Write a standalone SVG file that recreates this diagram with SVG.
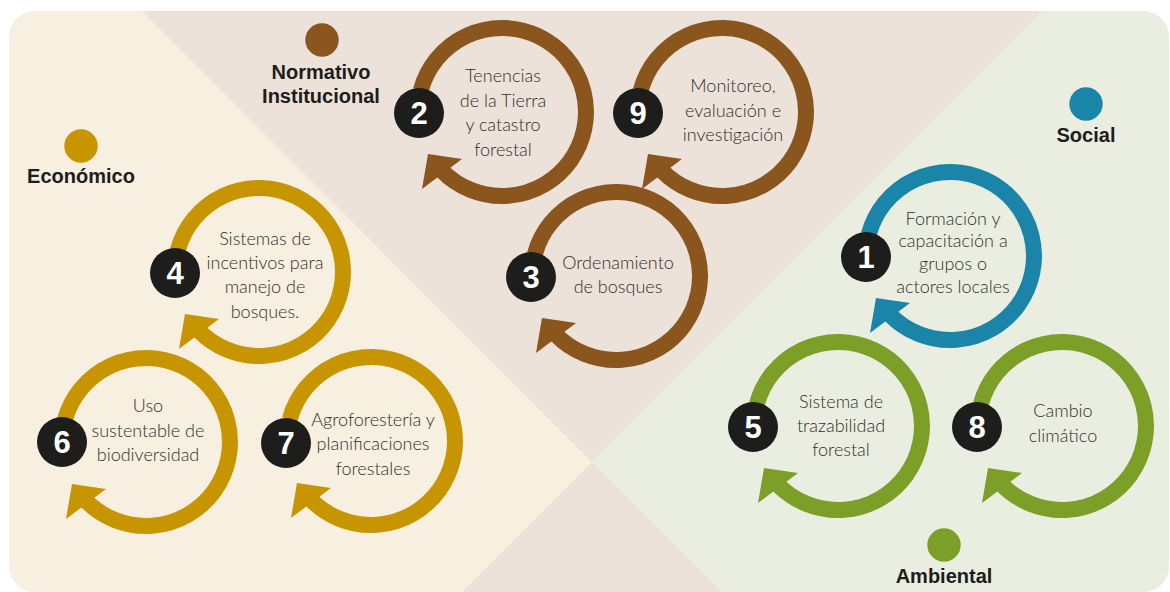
<svg xmlns="http://www.w3.org/2000/svg" xmlns:xlink="http://www.w3.org/1999/xlink" width="1170" height="592" viewBox="0 0 1170 592">
  <style>
    .ring { fill: none; stroke: currentColor; stroke-width: 16; }
    .head { fill: currentColor; }
    .brown { color: #8a561e; }
    .gold { color: #c79500; }
    .blue { color: #1a85a9; }
    .green { color: #7b9f27; }
    .badge { fill: #1d1d1b; }
    .num { font-family: "Liberation Sans", Arial, sans-serif; font-weight: bold; font-size: 31px; fill: #ffffff; text-anchor: middle; }
    .body { font-family: Lato, "Open Sans", sans-serif; font-weight: 300; font-size: 18px; fill: #2f2f2e; text-anchor: middle; }
    .title { font-family: "Liberation Sans", Arial, sans-serif; font-weight: bold; font-size: 20px; fill: #1d1d1b; text-anchor: middle; }
  </style>
  <defs>
    <clipPath id="bgclip">
      <rect x="9" y="11" width="1160" height="581" rx="26" ry="26"/>
    </clipPath>
    <g id="cycle">
      <path class="ring" d="M -81.14 -21.74 A 84 84 0 1 1 -60.42 58.35"/>
      <polygon class="head" points="-74,42 -40,47 -80,77"/>
    </g>
  </defs>

  <g id="background" clip-path="url(#bgclip)">
    <rect x="0" y="0" width="1170" height="592" fill="#f7efdf"/>
    <polygon points="142,11 1043,11 592,462" fill="#ece2d9"/>
    <polygon points="462,592 722,592 592,462" fill="#ece2d9"/>
    <polygon points="1043,11 1170,11 1170,592 722,592 592,462" fill="#eaeee0"/>
  </g>

  <g id="categories">
    <g id="cat-normativo">
      <circle cx="322" cy="40" r="16.7" fill="#8a561e"/>
      <text class="title" x="321" y="79">Normativo</text>
      <text class="title" x="321" y="103">Institucional</text>
    </g>
    <g id="cat-economico">
      <circle cx="81" cy="146" r="16.7" fill="#c79500"/>
      <text class="title" x="81" y="183">Económico</text>
    </g>
    <g id="cat-social">
      <circle cx="1086" cy="104" r="16.7" fill="#1a85a9"/>
      <text class="title" x="1086" y="142">Social</text>
    </g>
    <g id="cat-ambiental">
      <circle cx="944" cy="545" r="16.7" fill="#7b9f27"/>
      <text class="title" x="944" y="583">Ambiental</text>
    </g>
  </g>

  <g id="connectors">
    <use xlink:href="#cycle" href="#cycle" class="brown" transform="translate(502,112)"/>
    <use xlink:href="#cycle" href="#cycle" class="brown" transform="translate(722,112)"/>
    <use xlink:href="#cycle" href="#cycle" class="brown" transform="translate(616,276)"/>
    <use xlink:href="#cycle" href="#cycle" class="blue" transform="translate(950,256)"/>
    <use xlink:href="#cycle" href="#cycle" class="gold" transform="translate(259,272)"/>
    <use xlink:href="#cycle" href="#cycle" class="gold" transform="translate(146,442)"/>
    <use xlink:href="#cycle" href="#cycle" class="gold" transform="translate(371,441)"/>
    <use xlink:href="#cycle" href="#cycle" class="green" transform="translate(838,426)"/>
    <use xlink:href="#cycle" href="#cycle" class="green" transform="translate(1062,426)"/>
  </g>

  <g id="node-2">
    <circle class="badge" cx="419" cy="113" r="25"/>
    <text class="num" x="419" y="124">2</text>
    <text class="body" x="503" y="82">Tenencias</text>
    <text class="body" x="503" y="107">de la Tierra</text>
    <text class="body" x="503" y="131">y catastro</text>
    <text class="body" x="503" y="156">forestal</text>
  </g>
  <g id="node-9">
    <circle class="badge" cx="638" cy="113" r="25"/>
    <text class="num" x="638" y="124">9</text>
    <text class="body" x="733" y="92">Monitoreo,</text>
    <text class="body" x="733" y="117">evaluación e</text>
    <text class="body" x="733" y="141">investigación</text>
  </g>
  <g id="node-3">
    <circle class="badge" cx="531" cy="277" r="25"/>
    <text class="num" x="531" y="288">3</text>
    <text class="body" x="618" y="269">Ordenamiento</text>
    <text class="body" x="618" y="293">de bosques</text>
  </g>
  <g id="node-1">
    <circle class="badge" cx="866" cy="257" r="25"/>
    <text class="num" x="866" y="268">1</text>
    <text class="body" x="953" y="225">Formación y</text>
    <text class="body" x="953" y="247">capacitación a</text>
    <text class="body" x="953" y="270">grupos o</text>
    <text class="body" x="953" y="293">actores locales</text>
  </g>
  <g id="node-4">
    <circle class="badge" cx="175" cy="273" r="25"/>
    <text class="num" x="175" y="284">4</text>
    <text class="body" x="265" y="245">Sistemas de</text>
    <text class="body" x="265" y="269">incentivos para</text>
    <text class="body" x="265" y="293">manejo de</text>
    <text class="body" x="265" y="318">bosques.</text>
  </g>
  <g id="node-6">
    <circle class="badge" cx="62" cy="442" r="25"/>
    <text class="num" x="62" y="453">6</text>
    <text class="body" x="148" y="412">Uso</text>
    <text class="body" x="148" y="437">sustentable de</text>
    <text class="body" x="148" y="461">biodiversidad</text>
  </g>
  <g id="node-7">
    <circle class="badge" cx="286" cy="443" r="25"/>
    <text class="num" x="286" y="454">7</text>
    <text class="body" x="373" y="426">Agroforestería y</text>
    <text class="body" x="373" y="450">planificaciones</text>
    <text class="body" x="373" y="475">forestales</text>
  </g>
  <g id="node-5">
    <circle class="badge" cx="753" cy="427" r="25"/>
    <text class="num" x="753" y="438">5</text>
    <text class="body" x="841" y="408">Sistema de</text>
    <text class="body" x="841" y="432">trazabilidad</text>
    <text class="body" x="841" y="456">forestal</text>
  </g>
  <g id="node-8">
    <circle class="badge" cx="977" cy="427" r="25"/>
    <text class="num" x="977" y="438">8</text>
    <text class="body" x="1063" y="417">Cambio</text>
    <text class="body" x="1063" y="442">climático</text>
  </g>
</svg>
